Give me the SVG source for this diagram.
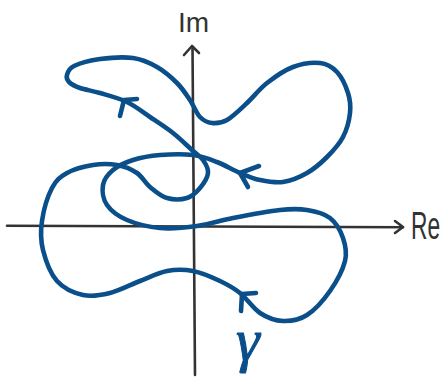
<svg xmlns="http://www.w3.org/2000/svg" width="446" height="378" viewBox="0 0 446 378">
<style>
.axis{fill:none;stroke:#333;stroke-width:2.6;stroke-linecap:round;stroke-linejoin:round}
.curve{fill:none;stroke:#0a4f8a;stroke-width:4.6;stroke-linecap:round;stroke-linejoin:round}
.lbl{font-family:"Liberation Sans",Arial,sans-serif;fill:#333}
</style>
<rect width="446" height="378" fill="#fff"/>
<g id="axes">
<path class="axis" d="M7,225.7 L403,227.3"/>
<path class="axis" d="M395,221 L403,227 L395,233"/>
<path class="axis" d="M192.5,47 L195,375"/>
<path class="axis" d="M184,55 L192,46 L199,53"/>
</g>
<g id="label-im"><text class="lbl" x="178" y="32" font-size="28">Im</text></g>
<g id="label-re"><text class="lbl" transform="translate(411,239) scale(0.6,1)" x="0" y="0" font-size="38">Re</text></g>
<g id="connectors">
<path id="gamma-curve" class="curve" d="M43,250 C40.5,240 40.5,231.3 42,221 S47.8,196 52,188 S60.2,176.8 67,173 S84.7,166.3 93,165 S109.7,163.7 117,165 S131.5,169.3 137,173 S145,182.8 150,187 S160.8,196.2 167,198 S181.5,199.7 187,198 S196.5,192.2 200,188 S207.5,177.7 208,173 S205.7,163.8 203,160 S197,154.5 192,150 S180,138.5 173,133 S157.7,122.2 150,117 S135.3,106 127,102 S107.8,95.3 100,93 S85.2,89.8 80,88 S71.2,84.2 69,82 S66.2,77.7 67,75 S68.5,68.7 74,66 S90.2,60.3 100,59 S123.5,56.7 133,58 S149.7,62.8 157,67 S171.5,77.5 177,83 S186.2,94.3 190,100 S196.3,113.2 200,117 S207.5,122.5 212,123 S221.2,123.3 227,120 S240.3,109.2 247,103 S259.3,89 267,83 S284.2,70.3 293,67 S312.7,62.2 320,63 S332.3,67 337,72 S345.8,86.2 348,93 S350.8,105.7 350,113 S346.8,129.7 343,137 S333,151 327,157 S314.3,168.8 307,173 S290.8,180.8 283,182 S267.2,181.5 260,180 S247.2,176 240,173 S224.8,165 217,162 S202.5,156.2 193,155 S170,154.2 160,155 S140.8,157.5 133,160 S118,165.8 113,170 S104,179.2 103,185 S103,199.2 107,205 S118.2,216.2 127,220 S148.3,227 160,228 S184.8,227.7 197,226 S219.2,220.7 233,218 S267.7,211.3 280,210 S298.7,208.7 307,210 S324,213.3 330,218 S340.5,230.8 343,238 S347.2,252.2 345,261 S336.3,282 330,291 S314.8,310 307,315 S290.8,321.3 283,321 S267.2,317.7 260,313 S246.7,298.3 240,293 S227.8,284.7 220,281 S201.8,272.7 193,271 S175.8,269.3 167,271 S149.5,277.3 140,281 S119.5,290.7 110,293 S91.8,297 83,295 S63.7,288.5 57,281 S45.5,260 43,250 Z"/>
<path class="curve" d="M137,99 L124,100 L120,116"/>
<path class="curve" d="M259,166 L240,173 L248,187"/>
<path class="curve" d="M256,293 L242,294 L241,311"/>
</g>
<g id="label-gamma"><text x="236" y="360" font-family="'Liberation Serif','Times New Roman',serif" font-style="italic" font-size="60" fill="#0a4f8a" stroke="#0a4f8a" stroke-width="1">γ</text></g>
</svg>
